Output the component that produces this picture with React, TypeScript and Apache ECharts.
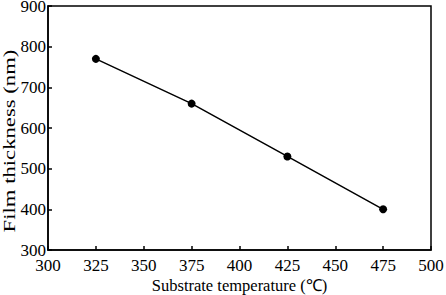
import React, { useEffect, useRef } from "react";
import * as echarts from "echarts";

const temperatures = [325, 375, 425, 475];
const thickness = [770, 660, 530, 400];
const xTitle = "Substrate temperature (℃)";
const yTitle = "Film thickness (nm)";

export default function App() {
  const ref = useRef<HTMLDivElement>(null);
  useEffect(() => {
    if (!ref.current) return;
    const chart = echarts.init(ref.current, null, { renderer: "svg" });
    const font = "'Liberation Serif', 'Times New Roman', serif";
    chart.setOption({
      animation: false,
      backgroundColor: "#fff",
      grid: {
        left: 48,
        right: 15,
        top: 6,
        bottom: 45,
        outerBoundsMode: "none",
        containLabel: false,
        show: true,
        borderColor: "#000",
        borderWidth: 1.5,
        backgroundColor: "transparent",
      },
      graphic: [
        {
          type: "text",
          x: 9,
          y: 141,
          rotation: Math.PI / 2,
          scaleX: 1.42,
          style: {
            text: yTitle,
            font: "16px " + font,
            fill: "#000",
            textAlign: "center",
            textVerticalAlign: "middle",
          },
        },
      ],
      xAxis: {
        type: "value",
        min: 300,
        max: 500,
        interval: 25,
        name: xTitle,
        nameLocation: "middle",
        nameGap: 27,
        nameMoveOverlap: false,
        nameTextStyle: { fontFamily: font, fontSize: 16.5, color: "#000" },
        axisLine: { lineStyle: { color: "#000", width: 1.5 } },
        axisTick: { inside: true, length: 4, lineStyle: { color: "#000", width: 1.5 } },
        axisLabel: { fontFamily: font, fontSize: 17, color: "#000", margin: 7 },
        splitLine: { show: false },
      },
      yAxis: {
        type: "value",
        min: 300,
        max: 900,
        interval: 100,
        axisLine: { lineStyle: { color: "#000", width: 1.5 } },
        axisTick: { inside: true, length: 4, lineStyle: { color: "#000", width: 1.5 } },
        axisLabel: { fontFamily: font, fontSize: 17, lineHeight: 12, color: "#000", margin: 2 },
        splitLine: { show: false },
      },
      series: [
        {
          type: "line",
          data: temperatures.map((t, i) => [t, thickness[i]]),
          symbol: "circle",
          symbolSize: 8,
          itemStyle: { color: "#000" },
          lineStyle: { color: "#000", width: 1.5 },
        },
      ],
    });
    return () => chart.dispose();
  }, []);
  return <div ref={ref} style={{ width: 446, height: 295, position: "absolute", left: 0, top: 0 }} />;
}
